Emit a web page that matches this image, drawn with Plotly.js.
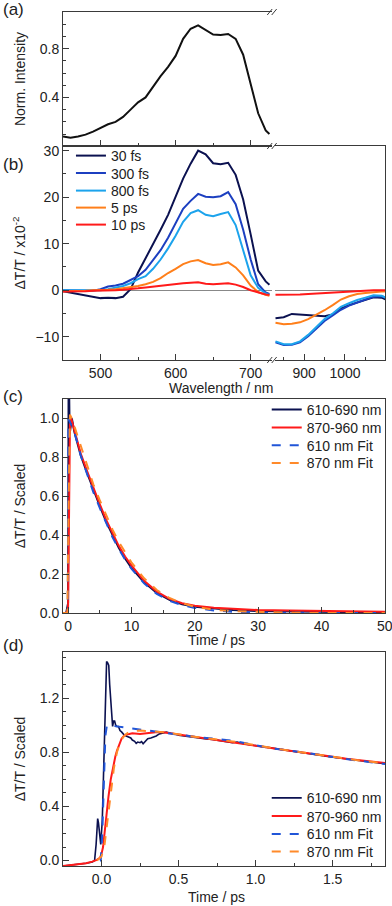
<!DOCTYPE html>
<html>
<head>
<meta charset="utf-8">
<script src="https://cdn.plot.ly/plotly-3.0.1.min.js"></script>
<style>
  html, body { margin: 0; padding: 0; background: #fff; }
  #chart { width: 392px; height: 906px; }
</style>
</head>
<body>
<div id="chart"></div>
<script>
// wavelength grids (nm) for the visible and near-IR parts of the broken axis
const visWl = [450, 460, 470, 480, 490, 500, 510, 520, 530, 540, 550, 560, 570, 580, 590, 600,
               610, 620, 630, 640, 650, 660, 670, 680, 690, 700, 710, 720, 725];
const nirWl = [830, 850, 870, 890, 910, 930, 950, 970, 990, 1010, 1030, 1050, 1070, 1090, 1100];

// (a) normalised emission spectrum
const normIntensity = [0.08, 0.07, 0.08, 0.095, 0.12, 0.15, 0.18, 0.2, 0.24, 0.3, 0.36, 0.4, 0.49, 0.575, 0.65, 0.74,
                       0.88, 0.963, 0.99, 0.955, 0.915, 0.912, 0.92, 0.88, 0.75, 0.51, 0.27, 0.13, 0.1];

// (b) transient spectra, dT/T x10^-2
const spectraNames = ['30 fs', '300 fs', '800 fs', '5 ps', '10 ps'];
const vis30fs = [-0.2, -0.5, -0.9, -1.2, -1.5, -1.7, -1.6, -1.7, -1.4, 0.2, 3.8, 6.8, 9.8, 13.0, 16.2, 20.2,
                 24.0, 27.2, 30.0, 29.2, 27.3, 27.1, 27.4, 24.8, 19.5, 12.0, 4.2, 1.9, 1.2];
const vis300fs = [0, 0, 0, 0, -0.1, 0.2, 0.8, 1.0, 1.4, 2.2, 3.0, 4.4, 6.4, 8.6, 11.3, 14.5,
                  17.5, 19.2, 20.7, 20.1, 20.0, 20.2, 21.1, 18.5, 13.0, 6.6, 1.3, -0.5, -0.8];
const vis800fs = [0, 0, 0, 0, 0, 0, 0.2, 0.5, 0.9, 1.5, 2.4, 3.0, 4.6, 6.6, 9.0, 11.7,
                  14.7, 16.6, 17.2, 16.2, 15.9, 16.4, 16.8, 14.0, 8.5, 3.2, 0.5, -0.7, -1.0];
const vis5ps = [-0.2, -0.2, -0.1, -0.1, 0, 0, 0.1, 0.2, 0.4, 0.7, 0.9, 1.3, 1.8, 2.6, 3.7, 4.6,
                5.6, 6.2, 6.5, 5.8, 5.4, 5.6, 6.0, 4.9, 3.2, 1.0, -0.4, -1.0, -1.2];
const vis10ps = [-0.3, -0.3, -0.3, -0.2, -0.1, -0.1, 0, 0, 0.1, 0.2, 0.4, 0.6, 0.8, 1.0, 1.2, 1.3,
                 1.5, 1.6, 1.7, 1.4, 1.3, 1.4, 1.5, 1.2, 0.7, 0, -0.5, -0.9, -1.0];
const nir30fs = [-6.0, -5.8, -5.1, -5.2, -5.4, -5.5, -5.6, -5.2, -3.9, -3.2, -2.6, -2.0, -1.5, -1.6, -2.0];
const nir300fs = [-11.2, -11.8, -11.7, -11.2, -9.9, -8.2, -6.6, -5.4, -4.2, -3.3, -2.6, -2.0, -1.4, -1.3, -1.6];
const nir800fs = [-11.0, -11.6, -11.6, -11.0, -9.6, -7.8, -6.2, -5.0, -3.6, -2.8, -2.1, -1.6, -1.1, -1.2, -1.6];
const nir5ps = [-7.0, -7.3, -7.2, -6.9, -6.2, -5.3, -4.3, -3.2, -2.0, -1.3, -0.8, -0.6, -0.4, -0.3, -0.3];
const nir10ps = [-1.0, -1.0, -0.9, -0.9, -0.8, -0.7, -0.6, -0.4, -0.3, -0.2, -0.1, 0, 0, 0, 0];
const spectraVis = [vis30fs, vis300fs, vis800fs, vis5ps, vis10ps];
const spectraNir = [nir30fs, nir300fs, nir800fs, nir5ps, nir10ps];
const spectraColors = ['#0b1150', '#1c3fc0', '#1ca3ec', '#ff7f1a', '#ff1a1a'];

// (c) kinetics, long window (ps)
const kinNames = ['610-690 nm', '870-960 nm', '610 nm Fit', '870 nm Fit'];
const tLong610 = [-0.8, -0.3, 0, 0.05, 0.1, 0.15, 0.25, 0.4, 0.6, 1, 1.5, 2, 3, 4, 5, 6, 7, 8, 9, 10,
                  12, 14, 16, 18, 20, 23, 26, 30, 35, 40, 45, 50];
const kin610Long = [0, 0, 0.05, 1.0, 1.45, 1.2, 0.92, 0.95, 1.0, 0.93, 0.87, 0.81, 0.72, 0.63, 0.55, 0.47, 0.4, 0.335, 0.28, 0.232,
                    0.158, 0.103, 0.067, 0.045, 0.032, 0.022, 0.015, 0.01, 0.007, 0.005, 0.004, 0.003];
const tLong870 = [-0.8, -0.3, 0, 0.1, 0.2, 0.3, 0.5, 0.7, 1, 1.5, 2, 3, 4, 5, 6, 7, 8, 9, 10,
                  12, 14, 16, 18, 20, 23, 26, 30, 35, 40, 45, 50];
const kin870Long = [0, 0, 0.02, 0.5, 0.85, 0.97, 1.0, 0.97, 0.94, 0.88, 0.82, 0.73, 0.64, 0.56, 0.48, 0.41, 0.345, 0.29, 0.245,
                    0.165, 0.11, 0.072, 0.05, 0.037, 0.027, 0.021, 0.015, 0.012, 0.009, 0.007, 0.006];
const tFit610Long = [-0.8, -0.05, 0.05, 1, 2, 3, 4, 5, 6, 7, 8, 9, 10, 12, 14, 16, 18, 20, 23, 26, 30, 35, 40, 50];
const fit610Long = [0, 0, 1.0, 0.93, 0.81, 0.71, 0.62, 0.54, 0.46, 0.39, 0.33, 0.275, 0.228, 0.152, 0.098, 0.062,
                    0.04, 0.026, 0.013, 0.006, 0.002, 0, 0, 0];
const tFit870Long = [-0.8, -0.1, 0.1, 0.3, 0.6, 1, 2, 3, 4, 5, 6, 7, 8, 9, 10, 12, 14, 16, 18, 20, 23, 26, 30, 35, 40, 50];
const fit870Long = [0, 0, 0.6, 1.02, 1.0, 0.96, 0.85, 0.75, 0.66, 0.58, 0.5, 0.43, 0.365, 0.31, 0.26, 0.178, 0.118,
                    0.077, 0.05, 0.032, 0.017, 0.009, 0.004, 0.001, 0, 0];

// (d) kinetics, early times (ps)
const tShort610 = [-0.25, -0.2, -0.15, -0.1, -0.06, -0.045, -0.035, -0.025, -0.02, -0.012, -0.005, 0.005, 0.012, 0.02,
                   0.027, 0.033, 0.04, 0.047, 0.053, 0.06, 0.066, 0.072, 0.078, 0.085, 0.092, 0.1, 0.11, 0.12, 0.13,
                   0.145, 0.16, 0.175, 0.19, 0.2, 0.215, 0.225, 0.235, 0.25, 0.26, 0.27, 0.285, 0.3, 0.32, 0.335,
                   0.355, 0.375, 0.4, 0.42, 0.45, 0.48, 0.5, 0.53, 0.56, 0.59, 0.62, 0.65, 0.68, 0.72, 0.76, 0.8,
                   0.85, 0.88, 0.92, 0.98, 1.05, 1.15, 1.25, 1.32, 1.4, 1.49, 1.58, 1.67, 1.75, 1.84];
const kin610Short = [-0.04, -0.035, -0.03, -0.02, -0.01, 0, 0.12, 0.31, 0.28, 0.17, 0.12, 0.3, 0.6, 0.95,
                     1.3, 1.47, 1.46, 1.44, 1.3, 1.15, 1.02, 0.99, 1.03, 1.03, 1.0, 0.99, 0.99, 0.96, 0.95,
                     0.93, 0.92, 0.91, 0.905, 0.89, 0.88, 0.865, 0.875, 0.87, 0.878, 0.862, 0.88, 0.9, 0.905, 0.91,
                     0.92, 0.935, 0.94, 0.948, 0.94, 0.935, 0.925, 0.92, 0.915, 0.91, 0.905, 0.902, 0.898, 0.895, 0.888, 0.878,
                     0.87, 0.875, 0.862, 0.852, 0.84, 0.818, 0.802, 0.79, 0.778, 0.765, 0.752, 0.74, 0.728, 0.715];
const tShort870 = [-0.25, -0.2, -0.15, -0.1, -0.06, -0.03, -0.01, 0, 0.01, 0.02, 0.03, 0.045, 0.06, 0.075, 0.09, 0.1,
                   0.115, 0.13, 0.145, 0.16, 0.18, 0.2, 0.25, 0.3, 0.35, 0.4, 0.45, 0.5, 0.6, 0.7, 0.8, 0.9, 1.0,
                   1.2, 1.4, 1.6, 1.84];
const kin870Short = [-0.04, -0.035, -0.03, -0.02, -0.008, 0.005, 0.02, 0.05, 0.1, 0.22, 0.34, 0.47, 0.6, 0.69, 0.77, 0.81,
                     0.86, 0.9, 0.92, 0.93, 0.935, 0.94, 0.935, 0.942, 0.948, 0.948, 0.94, 0.93, 0.912, 0.895, 0.88, 0.865, 0.85,
                     0.815, 0.783, 0.75, 0.72];
const tFit610Short = [-0.01, -0.005, 0.005, 0.015, 0.025, 0.035, 0.1, 0.2, 0.3, 0.4, 0.6, 0.85, 1.1, 1.3, 1.49, 1.65, 1.84];
const fit610Short = [0, 0, 0.2, 0.6, 0.92, 1.0, 0.99, 0.975, 0.96, 0.945, 0.915, 0.885, 0.83, 0.8, 0.766, 0.74, 0.713];
const tFit870Short = [-0.03, 0, 0.02, 0.04, 0.06, 0.08, 0.1, 0.12, 0.14, 0.16, 0.18, 0.2, 0.25, 0.3, 0.4, 0.6, 0.85,
                      1.1, 1.3, 1.49, 1.65, 1.84];
const fit870Short = [0, 0.03, 0.12, 0.3, 0.5, 0.68, 0.8, 0.87, 0.91, 0.935, 0.95, 0.958, 0.96, 0.957, 0.948, 0.915, 0.88,
                     0.832, 0.8, 0.766, 0.742, 0.718];

const kinColors = ['#0b1150', '#ff1a1a', '#2055d8', '#ff8a2a'];
const kinDash = ['solid', 'solid', 'dash', 'dash'];

const FONT = 'Liberation Sans, Arial, sans-serif';
const INK = '#3a3a3a';

// page pixel -> paper fraction (plot area is x 63..387, y 12..866)
const px = (x) => (x - 63) / 324;
const py = (y) => (866 - y) / 854;

// one small legend per entry so the rows sit as tight as in the figure
const legendRows = {
    b: {left: 71, rows: [156, 173.5, 191, 208, 225]},
    c: {left: 268, rows: [410, 428, 445.7, 463.3]},
    d: {left: 268, rows: [798.3, 816.5, 834.3, 852]}
};
const legendKeys = [];
let legendCount = 0;
function nextLegend() {
    legendCount += 1;
    return legendCount === 1 ? 'legend' : 'legend' + legendCount;
}

function makeTraces() {
    const traces = [];

    // (a)
    traces.push({x: visWl, y: normIntensity, xaxis: 'x', yaxis: 'y', mode: 'lines',
                 line: {color: '#111', width: 2}, showlegend: false, hoverinfo: 'skip'});

    // (b) visible then near-IR halves
    spectraNames.forEach((name, i) => {
        const key = nextLegend();
        legendKeys.push({key: key, left: legendRows.b.left, row: legendRows.b.rows[i]});
        traces.push({x: visWl, y: spectraVis[i], xaxis: 'x3', yaxis: 'y3', mode: 'lines', name: name,
                     line: {color: spectraColors[i], width: 2}, legend: key});
    });
    spectraNames.forEach((name, i) => {
        traces.push({x: nirWl, y: spectraNir[i], xaxis: 'x4', yaxis: 'y4', mode: 'lines', name: name,
                     line: {color: spectraColors[i], width: 2}, showlegend: false});
    });

    // (c)
    const longX = [tLong610, tLong870, tFit610Long, tFit870Long];
    const longY = [kin610Long, kin870Long, fit610Long, fit870Long];
    kinNames.forEach((name, i) => {
        const key = nextLegend();
        legendKeys.push({key: key, left: legendRows.c.left, row: legendRows.c.rows[i]});
        traces.push({x: longX[i], y: longY[i], xaxis: 'x5', yaxis: 'y5', mode: 'lines', name: name,
                     line: {color: kinColors[i], width: 2, dash: kinDash[i]}, legend: key});
    });

    // (d)
    const shortX = [tShort610, tShort870, tFit610Short, tFit870Short];
    const shortY = [kin610Short, kin870Short, fit610Short, fit870Short];
    kinNames.forEach((name, i) => {
        const key = nextLegend();
        legendKeys.push({key: key, left: legendRows.d.left, row: legendRows.d.rows[i]});
        traces.push({x: shortX[i], y: shortY[i], xaxis: 'x6', yaxis: 'y6', mode: 'lines', name: name,
                     line: {color: kinColors[i], width: i === 0 ? 1.6 : 2, dash: kinDash[i]}, legend: key});
    });
    return traces;
}

function axis(extra) {
    return Object.assign({
        showline: true, linecolor: INK, linewidth: 1, mirror: true,
        ticks: 'inside', ticklen: 6, tickwidth: 1, tickcolor: INK,
        tickfont: {family: FONT, size: 14, color: '#222'},
        showgrid: false, zeroline: false, fixedrange: true
    }, extra);
}

const leftDom = [0, 0.6481];
const rightDom = [0.6574, 1];
const domA = [0.8431, 1];
const domB = [0.5925, 0.8431];
const domC = [0.2963, 0.5468];
const domD = [0, 0.2506];
const minorTick = (d) => ({ticks: 'inside', ticklen: 3, dtick: d, tickcolor: INK});
const titleFont = {family: FONT, size: 14, color: '#222'};

// break marks "//" on the split wavelength axis
function breakMarks() {
    const shapes = [];
    [12, 146, 360].forEach(y => {
        [268.5, 273].forEach(x0 => {
            shapes.push({type: 'line', xref: 'paper', yref: 'paper',
                         x0: px(x0), y0: py(y + 3), x1: px(x0 + 5), y1: py(y - 3),
                         line: {color: INK, width: 1}});
        });
    });
    return shapes;
}

const traces = makeTraces();

const layout = {
    width: 392, height: 906,
    margin: {l: 63, r: 5, t: 12, b: 40},
    paper_bgcolor: '#fff', plot_bgcolor: '#fff',
    font: {family: FONT, color: '#222'},
    showlegend: true,

    xaxis: axis({domain: leftDom, anchor: 'y', range: [450, 728], dtick: 100, showticklabels: false, minor: minorTick(50)}),
    yaxis: axis({domain: domA, anchor: 'x', range: [0.002, 1.1], dtick: 0.4, mirror: false, minor: minorTick(0.1),
                 title: {text: 'Norm. Intensity', font: titleFont, standoff: 10}}),
    xaxis2: axis({domain: rightDom, anchor: 'y2', range: [828, 1098], dtick: 100, showticklabels: false, minor: minorTick(50)}),
    yaxis2: axis({domain: domA, anchor: 'x2', range: [0.002, 1.1], side: 'right', mirror: false, ticks: '', showticklabels: false}),

    xaxis3: axis({domain: leftDom, anchor: 'y3', range: [450, 728], dtick: 100, minor: minorTick(50)}),
    yaxis3: axis({domain: domB, anchor: 'x3', range: [-15, 31], dtick: 10, mirror: false, minor: minorTick(5),
                  zeroline: true, zerolinecolor: '#888', zerolinewidth: 1,
                  title: {text: 'ΔT/T / x10<sup>-2</sup>', font: titleFont, standoff: 6}}),
    xaxis4: axis({domain: rightDom, anchor: 'y4', range: [828, 1098], dtick: 100, minor: minorTick(50)}),
    yaxis4: axis({domain: domB, anchor: 'x4', range: [-15, 31], side: 'right', mirror: false, ticks: '', showticklabels: false,
                  zeroline: true, zerolinecolor: '#888', zerolinewidth: 1}),

    xaxis5: axis({domain: [0, 1], anchor: 'y5', range: [-0.8, 50.02], dtick: 10, minor: minorTick(5),
                  ticklabeloverflow: 'allow'}),
    yaxis5: axis({domain: domC, anchor: 'x5', range: [0, 1.1], dtick: 0.2, tickformat: '.1f', minor: minorTick(0.1),
                  title: {text: 'ΔT/T / Scaled', font: titleFont, standoff: 10}}),

    xaxis6: axis({domain: [0, 1], anchor: 'y6', range: [-0.25, 1.84], dtick: 0.5, tickformat: '.1f', minor: minorTick(0.25)}),
    yaxis6: axis({domain: domD, anchor: 'x6', range: [-0.04, 1.54], dtick: 0.4, tickformat: '.1f', minor: minorTick(0.1),
                  title: {text: 'ΔT/T / Scaled', font: titleFont, standoff: 10}}),

    shapes: breakMarks(),
    annotations: [
        {text: '(a)', x: 1, y: 10},
        {text: '(b)', x: 1, y: 165},
        {text: '(c)', x: 1, y: 397},
        {text: '(d)', x: 1, y: 645}
    ].map(a => ({text: a.text, xref: 'paper', yref: 'paper', x: px(a.x), y: py(a.y),
                 xanchor: 'left', yanchor: 'middle', showarrow: false, font: {family: FONT, size: 17, color: '#222'}}))
    .concat([
        {text: 'Wavelength / nm', x: 222, y: 388},
        {text: 'Time / ps', x: 217, y: 640},
        {text: 'Time / ps', x: 217, y: 897}
    ].map(a => ({text: a.text, xref: 'paper', yref: 'paper', x: px(a.x), y: py(a.y),
                 xanchor: 'center', yanchor: 'middle', showarrow: false, font: titleFont})))
};

legendKeys.forEach(l => {
    layout[l.key] = {x: px(l.left), y: py(l.row), xanchor: 'left', yanchor: 'middle',
                     bgcolor: 'rgba(0,0,0,0)', borderwidth: 0,
                     font: {family: FONT, size: 14, color: '#222'}};
});

document.addEventListener('DOMContentLoaded', function() {
    Plotly.newPlot('chart', traces, layout, {displayModeBar: false, staticPlot: true});
});
</script>
</body>
</html>
